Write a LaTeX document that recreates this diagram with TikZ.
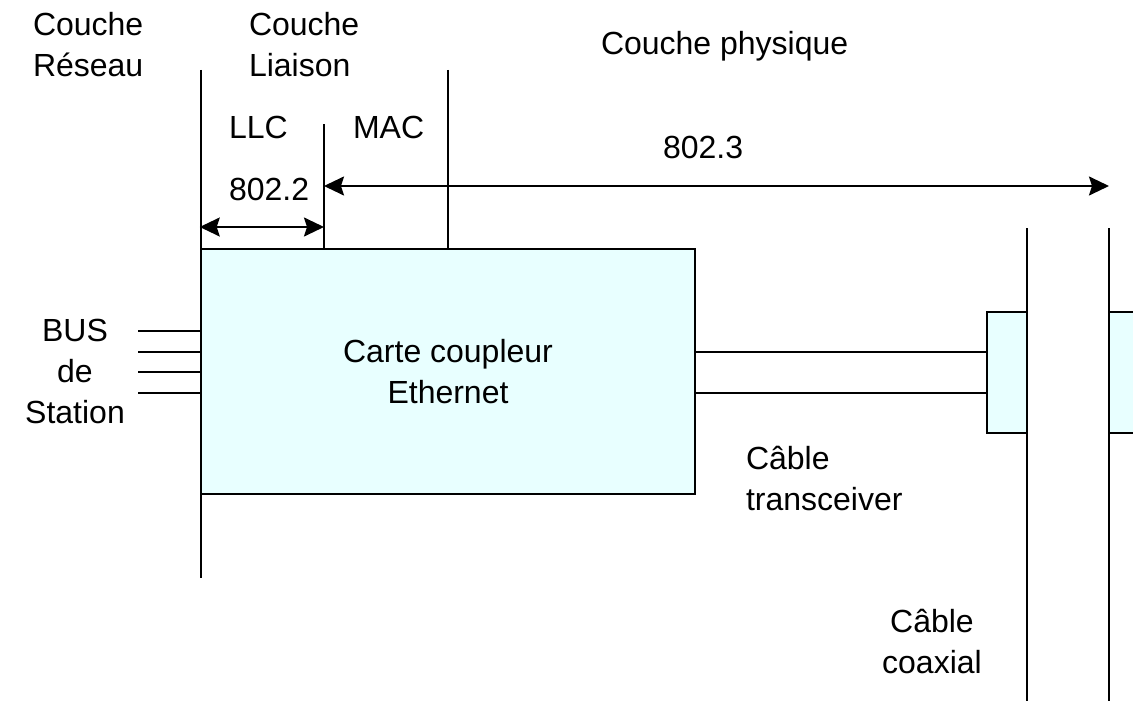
\documentclass[tikz,border=0pt]{standalone}
\usepackage{fontspec}
\setmainfont{Liberation Sans}
\usetikzlibrary{arrows.meta}
\definecolor{cyanpale}{HTML}{E8FFFF}
\tikzset{
	txt/.style = {font=\fontsize{32}{41}\selectfont, inner sep=0pt},
	bloc/.style = {draw, fill=cyanpale, line width=2.5pt, inner sep=0pt},
	fleche/.style = {{Stealth[length=20pt,width=19pt,inset=3pt]}-{Stealth[length=20pt,width=19pt,inset=3pt]}}
}
\begin{document}
\begin{tikzpicture}[x=1pt, y=-1pt, line width=2pt]
	\useasboundingbox (0,0) rectangle (1133,701);
	% couches
	\node [txt, anchor=base west, align=left] (reseau) at (32,77) {Couche\\Réseau};
	\node [txt, anchor=base west, align=left] (liaison) at (248,77) {Couche\\Liaison};
	\node [txt, anchor=base west] (physique) at (600,55) {Couche physique};
	\draw (201,70) -- (201,578);
	\draw (448,70) -- (448,249);
	\draw (324,124) -- (324,249);
	\node [txt, anchor=base west] (llc) at (228,138) {LLC};
	\node [txt, anchor=base west] (mac) at (352,138) {MAC};
	% carte
	\node [bloc, minimum width=494pt, minimum height=245pt, txt, align=center] (carte) at (448,371.5) {Carte coupleur\\Ethernet};
	\node [bloc, minimum width=40pt, minimum height=121pt] (trA) at (1007,372.5) {};
	\node [bloc, minimum width=40pt, minimum height=121pt] (trB) at (1129,372.5) {};
	\draw (1027,228) -- (1027,701);
	\draw (1109,228) -- (1109,701);
	% normes
	\coordinate (bordA) at (324,227);
	\coordinate (bordB) at (1109,186);
	\draw [fleche] (carte.west |- bordA) -- (bordA);
	\draw [fleche] (bordA |- bordB) -- (bordB);
	\node [txt, anchor=base west] (n8022) at (228,200) {802.2};
	\node [txt, anchor=base west] (n8023) at (662,158) {802.3};
	% bus et cable
	\foreach \y in {331,352,372,393} {
		\coordinate (bus\y) at (138,\y);
		\draw (bus\y) -- (carte.west |- bus\y);
	}
	\node [txt, anchor=base, align=center] (bus) at (75,423) {BUS\\de\\Station};
	\foreach \y in {352,393}
		\draw (carte.east |- 0,\y) -- (trA.west |- 0,\y);
	\node [txt, anchor=base west, align=left] (ctrans) at (745,510) {Câble\\transceiver};
	\node [txt, anchor=base, align=center] (ccoax) at (932,673) {Câble\\coaxial};
\end{tikzpicture}
\end{document}
